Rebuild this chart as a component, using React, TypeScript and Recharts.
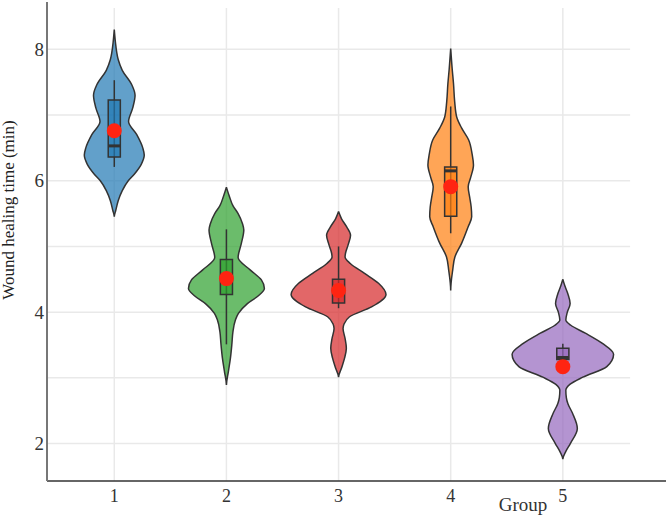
import React from 'react'
import { ScatterChart, Scatter, XAxis, YAxis, ReferenceLine, Label } from 'recharts'

// groups on the x axis
const groups = [1, 2, 3, 4, 5]
const colors = ['#1f77b4', '#2ca02c', '#d62728', '#ff7f0e', '#9467bd']

// violin profiles, [healing time, density], top to bottom
const violin1 = [
  [8.3, 0], [8.1, 0.12], [7.95, 0.25], [7.84, 0.4], [7.68, 0.8], [7.46, 1.75], [7.3, 2.08],
  [7.1, 1.83], [6.9, 1.43], [6.7, 2.25], [6.5, 2.85], [6.39, 3.0], [6.25, 2.7], [6.1, 2.0],
  [6.0, 1.4], [5.85, 0.8], [5.7, 0.4], [5.55, 0.15], [5.45, 0],
]
const violin2 = [
  [5.9, 0], [5.76, 0.3], [5.62, 0.65], [5.5, 1.17], [5.35, 1.6], [5.25, 1.74], [5.05, 1.5],
  [4.83, 1.17], [4.64, 2.4], [4.49, 3.5], [4.36, 3.8], [4.25, 3.2], [4.13, 2.1], [3.98, 1.2],
  [3.88, 0.9], [3.7, 0.65], [3.52, 0.55], [3.3, 0.4], [3.1, 0.2], [2.89, 0],
]
const violin3 = [
  [5.53, 0], [5.42, 0.3], [5.3, 0.8], [5.17, 1.2], [5.02, 0.95], [4.9, 0.7], [4.84, 0.65],
  [4.74, 1.17], [4.59, 2.6], [4.44, 4.0], [4.27, 4.75], [4.08, 3.3], [3.93, 1.1], [3.82, 0.55],
  [3.75, 0.45], [3.6, 0.65], [3.45, 0.78], [3.3, 0.6], [3.15, 0.3], [3.01, 0],
]
const violin4 = [
  [8.01, 0], [7.7, 0.15], [7.48, 0.28], [7.2, 0.4], [6.97, 0.6], [6.8, 1.1], [6.62, 1.8],
  [6.4, 2.15], [6.24, 2.28], [6.05, 2.0], [5.91, 1.75], [5.75, 1.9], [5.6, 2.05], [5.45, 2.1],
  [5.3, 1.75], [5.05, 1.1], [4.84, 0.42], [4.64, 0.2], [4.33, 0],
]
const violin5 = [
  [4.5, 0], [4.4, 0.2], [4.28, 0.5], [4.13, 0.73], [4.0, 0.45], [3.88, 0.3], [3.8, 0.8],
  [3.68, 2.25], [3.52, 4.0], [3.36, 5.08], [3.17, 4.4], [3.01, 2.0], [2.9, 0.7], [2.81, 0.3],
  [2.7, 0.35], [2.61, 0.5], [2.46, 0.97], [2.23, 1.45], [2.0, 0.75], [1.88, 0.3], [1.76, 0],
]
const violins = [violin1, violin2, violin3, violin4, violin5]

// box plot stats per group
const means = [6.76, 4.51, 4.33, 5.91, 3.17]
const medians = [6.53, 4.5, 4.32, 6.15, 3.31]
const q1 = [6.36, 4.27, 4.14, 5.46, 3.28]
const q3 = [7.23, 4.8, 4.5, 6.21, 3.45]
const whiskerLow = [6.21, 3.51, 4.06, 5.2, 3.28]
const whiskerHigh = [7.53, 5.26, 5.0, 7.13, 3.52]

const xTicks = [1, 2, 3, 4, 5]
const yTicks = [2, 4, 6, 8]
const gridY = [2, 3, 4, 5, 6, 7, 8]

const DENSITY_SCALE = 0.0891
const BOX_HALF = 0.054
const FONT = '"Liberation Serif", "Times New Roman", serif'
const GRID = '#e9e9e9'

// right side down, left side back up, ending on the top tip again
const outline = (g: number, prof: number[][]) => {
  const right = prof.map(([y, d]) => ({ x: g + d * DENSITY_SCALE, y }))
  const left = prof
    .slice(0, -1)
    .reverse()
    .map(([y, d]) => ({ x: g - d * DENSITY_SCALE, y }))
  return [...right, ...left]
}

const noDot = () => <g />

export default function App() {
  return (
    <div>
      <style>{'body{margin:0;background:#fff}'}</style>
      <ScatterChart width={669} height={516} margin={{ top: 2, right: 3, bottom: 0, left: 0 }}>
        <XAxis
          type="number"
          dataKey="x"
          domain={[0.4, 5.92]}
          allowDataOverflow
          ticks={xTicks}
          tickLine={false}
          tickSize={8}
          tickMargin={0}
          height={35}
          axisLine={{ stroke: '#333', strokeWidth: 1.5 }}
          tick={{ fontSize: 18, fill: '#333', fontFamily: FONT }}
        >
          <Label
            content={() => (
              <text x={523} y={511} textAnchor="middle" fontSize={19} fill="#333" fontFamily={FONT}>
                Group
              </text>
            )}
          />
        </XAxis>
        <YAxis
          type="number"
          dataKey="y"
          domain={[1.43, 8.72]}
          allowDataOverflow
          ticks={yTicks}
          tickLine={false}
          tickSize={3}
          tickMargin={0}
          width={47}
          axisLine={{ stroke: '#777', strokeWidth: 2 }}
          tick={{ fontSize: 19, fill: '#333', fontFamily: FONT }}
        >
          <Label
            content={() => (
              <text
                x={14}
                y={210}
                transform="rotate(-90 14 210)"
                textAnchor="middle"
                fontSize={17}
                fill="#222"
                fontFamily={FONT}
              >
                Wound healing time (min)
              </text>
            )}
          />
        </YAxis>

        {gridY.map((v) => (
          <ReferenceLine
            key={`h${v}`}
            segment={[{ x: 0.4, y: v }, { x: 5.6, y: v }]}
            stroke={GRID}
            strokeWidth={1.5}
          />
        ))}
        {xTicks.map((v) => (
          <ReferenceLine
            key={`v${v}`}
            segment={[{ x: v, y: 1.43 }, { x: v, y: 8.63 }]}
            stroke={GRID}
            strokeWidth={1.5}
          />
        ))}

        {groups.map((g, i) => (
          <Scatter
            key={`violin${g}`}
            data={outline(g, violins[i])}
            shape={noDot}
            line={{ stroke: '#333', strokeWidth: 1.5, fill: colors[i], fillOpacity: 0.7 }}
            lineJointType="monotoneY"
            isAnimationActive={false}
          />
        ))}
        {groups.map((g, i) => (
          <Scatter
            key={`whisker${g}`}
            data={[{ x: g, y: whiskerLow[i] }, { x: g, y: whiskerHigh[i] }]}
            shape={noDot}
            line={{ stroke: '#333', strokeWidth: 1.5 }}
            isAnimationActive={false}
          />
        ))}
        {groups.map((g, i) => (
          <Scatter
            key={`box${g}`}
            data={[
              { x: g - BOX_HALF, y: q1[i] },
              { x: g + BOX_HALF, y: q1[i] },
              { x: g + BOX_HALF, y: q3[i] },
              { x: g - BOX_HALF, y: q3[i] },
            ]}
            shape={noDot}
            line={{ stroke: '#333', strokeWidth: 1.5, fill: colors[i], fillOpacity: 0.7 }}
            lineJointType="linearClosed"
            isAnimationActive={false}
          />
        ))}
        {groups.map((g, i) => (
          <Scatter
            key={`median${g}`}
            data={[{ x: g - BOX_HALF, y: medians[i] }, { x: g + BOX_HALF, y: medians[i] }]}
            shape={noDot}
            line={{ stroke: '#333', strokeWidth: 3 }}
            isAnimationActive={false}
          />
        ))}
        <Scatter
          data={groups.map((g, i) => ({ x: g, y: means[i] }))}
          shape={(p: any) => <circle cx={p.cx} cy={p.cy} r={7.5} fill="#ff2412" />}
          isAnimationActive={false}
        />
      </ScatterChart>
    </div>
  )
}
